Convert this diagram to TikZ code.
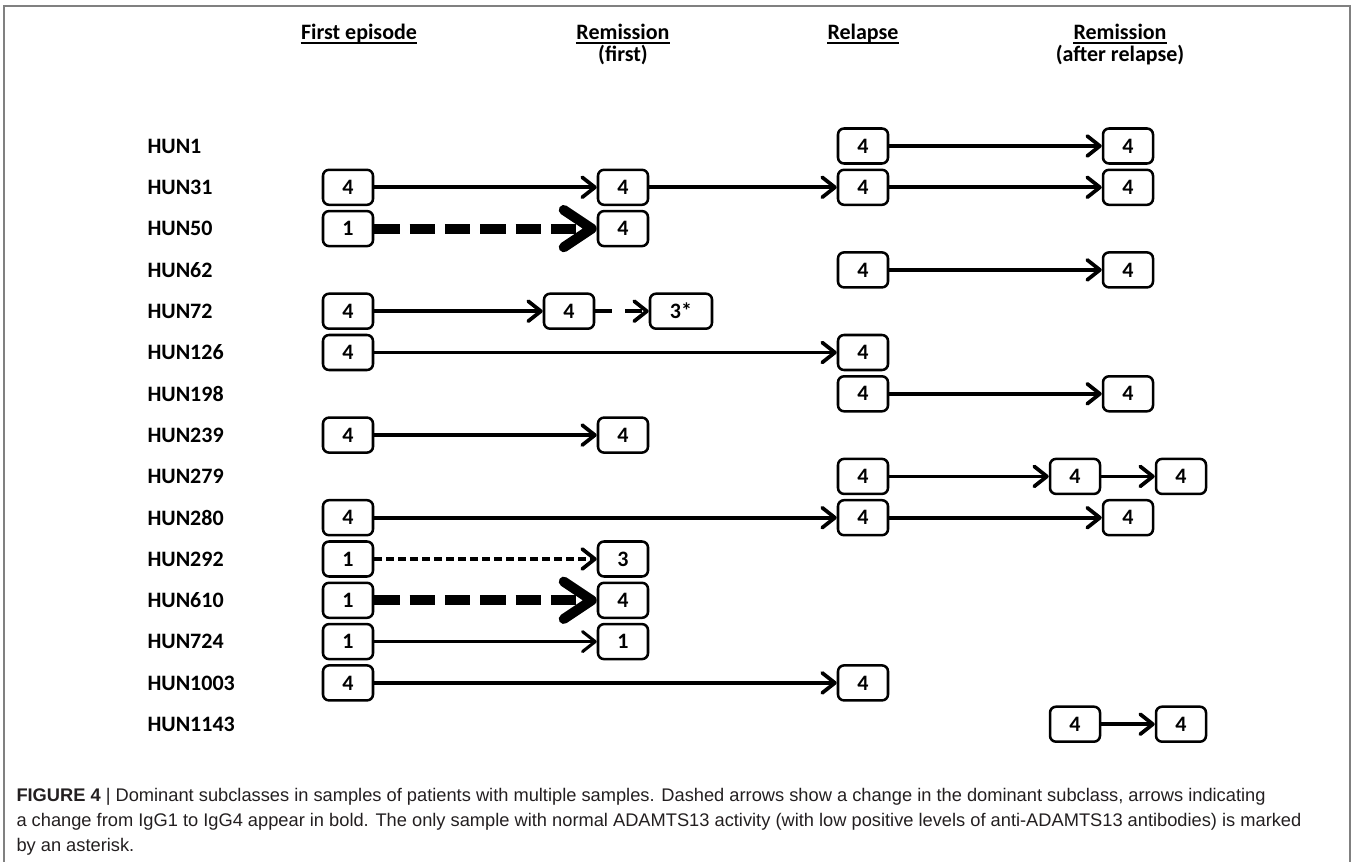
\documentclass[tikz,border=0pt]{standalone}
\usepackage{fontspec}
\setmainfont{Carlito}
\newfontfamily\captionfont{Liberation Sans}
\usetikzlibrary{arrows.meta}

\definecolor{framegray}{RGB}{128,128,128}
\definecolor{captext}{RGB}{35,31,32}

\tikzset{every picture/.style={line width=0.75pt}}
\tikzset{
  sample/.style={draw, rounded corners=4.5pt, line width=1.9pt, minimum width=37.5pt, minimum height=26.25pt, inner sep=0pt, font=\fontsize{16.5}{19}\selectfont\bfseries},
  patient/.style={anchor=west, inner sep=0pt, font=\fontsize{16.5}{19}\selectfont\bfseries},
  phase/.style={anchor=base, inner sep=0pt, font=\fontsize{16.5}{19}\selectfont\bfseries},
  keep/.style={line width=2.8pt, -{Straight Barb[round, length=9.5pt, width=15pt]}},
  switch/.style={line width=2.8pt, dash pattern=on 6pt off 3pt, -{Straight Barb[round, length=9.5pt, width=15pt]}},
  tofour/.style={line width=7.5pt, dash pattern=on 19pt off 7.5pt, -{Straight Barb[round, length=21pt, width=28pt]}},
  capline/.style={anchor=base west, inner sep=0pt, color=captext, font=\captionfont\fontsize{13.7}{18}\selectfont},
}

\begin{document}
\begin{tikzpicture}[x=0.75pt,y=0.75pt,yscale=-1,xscale=1]
\useasboundingbox (0,0) rectangle (1355,862);

%Frame
\draw [color=framegray, line width=1.1pt] (4,862) -- (4,6) -- (1350,6) -- (1350,862);

% Column headers
\node [phase] (hfirst) at (359,40) {First episode};
\node [phase] (hrem) at (623,40) {Remission};
\node [phase] (hremsub) at (623,62) {(first)};
\node [phase] (hrel) at (863,40) {Relapse};
\node [phase] (hrem2) at (1120,40) {Remission};
\node [phase] (hrem2sub) at (1120,62) {(after relapse)};
\draw [line width=1.4pt] ([yshift=2.2pt]hfirst.base west) -- ([yshift=2.2pt]hfirst.base east);
\draw [line width=1.4pt] ([yshift=2.2pt]hrem.base west) -- ([yshift=2.2pt]hrem.base east);
\draw [line width=1.4pt] ([yshift=2.2pt]hrel.base west) -- ([yshift=2.2pt]hrel.base east);
\draw [line width=1.4pt] ([yshift=2.2pt]hrem2.base west) -- ([yshift=2.2pt]hrem2.base east);

% Patient labels
\node [patient] (l1) at (147,146) {HUN1};
\node [patient] (l31) at (147,187.3) {HUN31};
\node [patient] (l50) at (147,228.6) {HUN50};
\node [patient] (l62) at (147,269.9) {HUN62};
\node [patient] (l72) at (147,311.2) {HUN72};
\node [patient] (l126) at (147,352.5) {HUN126};
\node [patient] (l198) at (147,393.8) {HUN198};
\node [patient] (l239) at (147,435.1) {HUN239};
\node [patient] (l279) at (147,476.4) {HUN279};
\node [patient] (l280) at (147,517.7) {HUN280};
\node [patient] (l292) at (147,559) {HUN292};
\node [patient] (l610) at (147,600.3) {HUN610};
\node [patient] (l724) at (147,641.6) {HUN724};
\node [patient] (l1003) at (147,682.9) {HUN1003};
\node [patient] (l1143) at (147,724.2) {HUN1143};

% HUN1
\node [sample] (p1c) at (863,146) {4};
\node [sample] (p1d) at (1128,146) {4};
\draw [keep] (p1c) -- (p1d);
% HUN31
\node [sample] (p31a) at (348,187.3) {4};
\node [sample] (p31b) at (623,187.3) {4};
\node [sample] (p31c) at (863,187.3) {4};
\node [sample] (p31d) at (1128,187.3) {4};
\draw [keep] (p31a) -- (p31b);
\draw [keep] (p31b) -- (p31c);
\draw [keep] (p31c) -- (p31d);
% HUN50
\node [sample] (p50a) at (348,228.6) {1};
\node [sample] (p50b) at (623,228.6) {4};
\draw [tofour] (p50a) -- (p50b);
% HUN62
\node [sample] (p62c) at (863,269.9) {4};
\node [sample] (p62d) at (1128,269.9) {4};
\draw [keep] (p62c) -- (p62d);
% HUN72
\node [sample] (p72a) at (348,311.2) {4};
\node [sample] (p72b) at (569,311.2) {4};
\node [sample, minimum width=46.5pt] (p72x) at (681,311.2) {3*};
\draw [keep] (p72a) -- (p72b);
\draw [keep, dash pattern=on 12.75pt off 9.75pt] (p72b) -- (p72x);
% HUN126
\node [sample] (p126a) at (348,352.5) {4};
\node [sample] (p126c) at (863,352.5) {4};
\draw [keep] (p126a) -- (p126c);
% HUN198
\node [sample] (p198c) at (863,393.8) {4};
\node [sample] (p198d) at (1128,393.8) {4};
\draw [keep] (p198c) -- (p198d);
% HUN239
\node [sample] (p239a) at (348,435.1) {4};
\node [sample] (p239b) at (623,435.1) {4};
\draw [keep] (p239a) -- (p239b);
% HUN279
\node [sample] (p279c) at (863,476.4) {4};
\node [sample] (p279d) at (1075,476.4) {4};
\node [sample] (p279e) at (1181,476.4) {4};
\draw [keep] (p279c) -- (p279d);
\draw [keep] (p279d) -- (p279e);
% HUN280
\node [sample] (p280a) at (348,517.7) {4};
\node [sample] (p280c) at (863,517.7) {4};
\node [sample] (p280d) at (1128,517.7) {4};
\draw [keep] (p280a) -- (p280c);
\draw [keep] (p280c) -- (p280d);
% HUN292
\node [sample] (p292a) at (348,559) {1};
\node [sample] (p292b) at (623,559) {3};
\draw [switch] (p292a) -- (p292b);
% HUN610
\node [sample] (p610a) at (348,600.3) {1};
\node [sample] (p610b) at (623,600.3) {4};
\draw [tofour] (p610a) -- (p610b);
% HUN724
\node [sample] (p724a) at (348,641.6) {1};
\node [sample] (p724b) at (623,641.6) {1};
\draw [keep, line width=2.3pt] (p724a) -- (p724b);
% HUN1003
\node [sample] (p1003a) at (348,682.9) {4};
\node [sample] (p1003c) at (863,682.9) {4};
\draw [keep] (p1003a) -- (p1003c);
% HUN1143
\node [sample] (p1143d) at (1075,724.2) {4};
\node [sample] (p1143e) at (1181,724.2) {4};
\draw [keep] (p1143d) -- (p1143e);

% Caption
\node [capline] (cap1) at (16,801.5) {\textbf{FIGURE 4} | Dominant subclasses in samples of patients with multiple samples. Dashed arrows show a change in the dominant subclass, arrows indicating};
\node [capline] (cap2) at (16,826.5) {a change from IgG1 to IgG4 appear in bold. The only sample with normal ADAMTS13 activity (with low positive levels of anti-ADAMTS13 antibodies) is marked};
\node [capline] (cap3) at (16,851.5) {by an asterisk.};

\end{tikzpicture}
\end{document}
